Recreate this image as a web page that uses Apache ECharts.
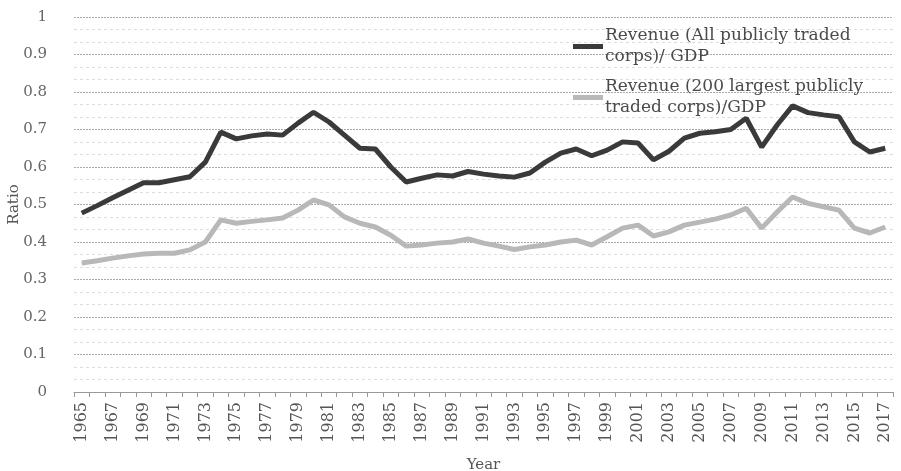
<!DOCTYPE html>
<html>
<head>
<meta charset="utf-8">
<script src="https://cdn.jsdelivr.net/npm/echarts@6/dist/echarts.min.js"></script>
<style>
  html, body { margin: 0; padding: 0; background: #fff; }
  #main { width: 901px; height: 471px; }
</style>
</head>
<body>
<div id="main"></div>
<script>
// 年份
var years = [];
for (var y = 1965; y <= 2017; y++) years.push(String(y));

// Revenue (All publicly traded corps)/ GDP
var allCorps = [
  0.477, 0.497, 0.518, 0.538, 0.558, 0.558, 0.566, 0.574, 0.613, 0.693,
  0.675, 0.683, 0.688, 0.685, 0.717, 0.746, 0.72, 0.685, 0.65, 0.648,
  0.6, 0.56, 0.57, 0.579, 0.576, 0.588, 0.581, 0.576, 0.573, 0.584,
  0.613, 0.637, 0.648, 0.63, 0.645, 0.667, 0.664, 0.619, 0.642, 0.677,
  0.69, 0.694, 0.7, 0.73, 0.653, 0.712, 0.763, 0.745, 0.739, 0.734,
  0.667, 0.64, 0.65
];

// Revenue (200 largest publicly traded corps)/GDP
var top200 = [
  0.344, 0.35, 0.357, 0.363, 0.368, 0.37, 0.37, 0.379, 0.4, 0.459,
  0.45, 0.455, 0.459, 0.464, 0.485, 0.512, 0.499, 0.467, 0.45, 0.44,
  0.418, 0.389, 0.392, 0.397, 0.4, 0.408, 0.397, 0.389, 0.38, 0.387,
  0.392, 0.4, 0.405, 0.392, 0.414, 0.437, 0.445, 0.416, 0.427, 0.445,
  0.453, 0.461, 0.472, 0.49, 0.437, 0.48, 0.52, 0.503, 0.494, 0.485,
  0.437, 0.424, 0.44
];

var seriesNames = [
  'Revenue (All publicly traded\ncorps)/ GDP',
  'Revenue (200 largest publicly\ntraded corps)/GDP'
];

var serif = '"DejaVu Serif", "Liberation Serif", serif';

var chart = echarts.init(document.getElementById('main'));
chart.setOption({
  animation: false,
  textStyle: { fontFamily: serif },
  grid: { left: 74, right: 8, top: 17, bottom: 79, outerBoundsMode: 'none', containLabel: false },
  legend: {
    orient: 'vertical',
    left: 573,
    top: 15,
    padding: 0,
    itemWidth: 30,
    itemHeight: 5,
    itemGap: -12,
    icon: 'rect',
    textStyle: { fontFamily: serif, fontSize: 17, color: '#4a4a4a', lineHeight: 21, padding: [21, 0, 0, -3] },
    data: seriesNames
  },
  xAxis: {
    type: 'category',
    data: years,
    boundaryGap: true,
    name: 'Year',
    nameLocation: 'middle',
    nameGap: 66,
    nameTextStyle: { fontFamily: serif, fontSize: 15, color: '#555' },
    axisLine: { lineStyle: { color: '#999', width: 1 } },
    axisTick: { show: true, interval: 0, length: 5, lineStyle: { color: '#999' } },
    axisLabel: {
      interval: 1,
      rotate: 90,
      margin: 10,
      fontFamily: serif,
      fontSize: 16,
      color: '#555'
    },
    splitLine: { show: false }
  },
  yAxis: {
    type: 'value',
    min: 0,
    max: 1,
    interval: 0.1,
    name: 'Ratio',
    nameLocation: 'middle',
    nameGap: 52,
    nameMoveOverlap: false,
    nameTextStyle: { fontFamily: serif, fontSize: 15, color: '#555' },
    axisLine: { show: false },
    axisTick: { show: false },
    axisLabel: {
      margin: 27,
      fontFamily: serif,
      fontSize: 15,
      color: '#666',
      formatter: function (v) { return String(Math.round(v * 10) / 10); }
    },
    splitLine: { lineStyle: { color: '#aaa', width: 1, type: [2, 1] } },
    minorTick: { show: false, splitNumber: 3 },
    minorSplitLine: { show: true, lineStyle: { color: '#ddd', width: 1, type: [3, 3] } }
  },
  series: [
    {
      name: seriesNames[0],
      type: 'line',
      data: allCorps,
      symbol: 'none',
      lineStyle: { color: '#3a3a3a', width: 5 },
      itemStyle: { color: '#3a3a3a' }
    },
    {
      name: seriesNames[1],
      type: 'line',
      data: top200,
      symbol: 'none',
      lineStyle: { color: '#b8b8b8', width: 5 },
      itemStyle: { color: '#b8b8b8' }
    }
  ]
});
</script>
</body>
</html>
